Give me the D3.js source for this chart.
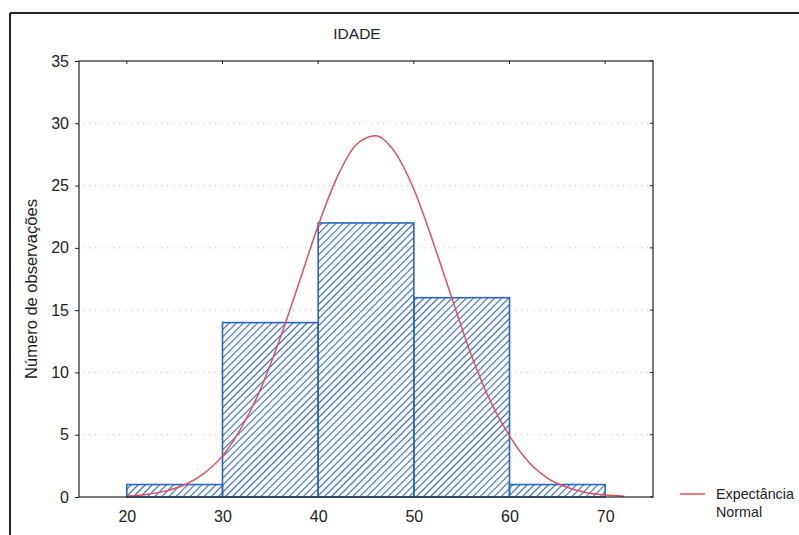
<!DOCTYPE html>
<html>
<head>
<meta charset="utf-8">
<script src="https://cdn.jsdelivr.net/npm/d3@7"></script>
<style>
  body { margin: 0; background: #fff; }
  text { font-family: "Liberation Sans", Arial, sans-serif; fill: #222; }
</style>
</head>
<body>
<svg id="svg" width="799" height="535"></svg>
<script>
// histogram of IDADE (bins of 10 years) + fitted normal curve
let binStarts = [20, 30, 40, 50, 60];
let binEnds = [30, 40, 50, 60, 70];
let counts = [1, 14, 22, 16, 1];

// normal expectancy curve
let curveX = [20, 22, 24, 26, 28, 30, 32, 34, 36, 38, 40, 42, 44, 46, 48, 50, 52, 54, 56, 58, 60, 62, 64, 66, 68, 70, 72];
let curveY = [0.09, 0.21, 0.47, 0.96, 1.86, 3.3, 5.6, 8.7, 12.7, 17.2, 21.8, 25.7, 28.3, 29.0, 27.7, 24.7, 20.5, 15.9, 11.4, 7.7, 4.9, 2.8, 1.5, 0.78, 0.37, 0.16, 0.07];

let xTicks = [20, 30, 40, 50, 60, 70];
let yTicks = [0, 5, 10, 15, 20, 25, 30, 35];

let svg = d3.select("#svg");

let plotLeft = 79, plotRight = 653, plotTop = 61, plotBottom = 497;
let x = d3.scaleLinear().domain([15, 75]).range([plotLeft, plotRight]);
let y = d3.scaleLinear().domain([0, 35]).range([plotBottom, plotTop]);

//Outer frame (top and left edges only visible)
svg.append("line").attr("x1", 10).attr("x2", 799).attr("y1", 13).attr("y2", 13)
    .attr("stroke", "#222").attr("stroke-width", 2);
svg.append("line").attr("x1", 10).attr("x2", 10).attr("y1", 13).attr("y2", 535)
    .attr("stroke", "#222").attr("stroke-width", 2);

//Hatch pattern
let defs = svg.append("defs");
let pat = defs.append("pattern")
    .attr("id", "hatch")
    .attr("patternUnits", "userSpaceOnUse")
    .attr("width", 5).attr("height", 5)
    .attr("patternTransform", "rotate(45)");
pat.append("line")
    .attr("x1", 0).attr("y1", 0).attr("x2", 0).attr("y2", 5)
    .attr("stroke", "#2a66b8").attr("stroke-width", 2.2);

//Grid lines
svg.append("g").selectAll("line")
    .data(yTicks.filter(d => d > 0 && d < 35))
    .join("line")
    .attr("x1", plotLeft + 4).attr("x2", plotRight - 4)
    .attr("y1", d => y(d)).attr("y2", d => y(d))
    .attr("stroke", "#bbb").attr("stroke-width", 1)
    .attr("stroke-dasharray", "1,5");

//Bars
svg.append("g").selectAll("rect")
    .data(counts)
    .join("rect")
    .attr("x", (d, i) => x(binStarts[i]))
    .attr("width", (d, i) => x(binEnds[i]) - x(binStarts[i]))
    .attr("y", d => y(d))
    .attr("height", d => y(0) - y(d))
    .attr("fill", "url(#hatch)")
    .attr("stroke", "#2a66b8")
    .attr("stroke-width", 1.6);

//Normal curve
let line = d3.line().x(d => x(d[0])).y(d => y(d[1])).curve(d3.curveMonotoneX);
svg.append("path")
    .datum(curveX.map((v, i) => [v, curveY[i]]))
    .attr("d", line)
    .attr("fill", "none")
    .attr("stroke", "#e0505c")
    .attr("stroke-width", 1.5);

//Plot box
svg.append("rect")
    .attr("x", plotLeft).attr("y", plotTop)
    .attr("width", plotRight - plotLeft).attr("height", plotBottom - plotTop)
    .attr("fill", "none").attr("stroke", "#222").attr("stroke-width", 1.2);

//Axes
let yAxis = d3.axisLeft(y).tickValues(yTicks).tickSize(4).tickPadding(6);
let gy = svg.append("g").attr("transform", `translate(${plotLeft},0)`).call(yAxis);
let xAxis = d3.axisBottom(x).tickValues(xTicks).tickSize(0).tickPadding(14);
let gx = svg.append("g").attr("transform", `translate(0,${plotBottom})`).call(xAxis);
[gx, gy].forEach(g => {
    g.select(".domain").remove();
    g.selectAll("text").style("font-size", "16px").attr("fill", "#222")
        .style("font-family", "'Liberation Sans', Arial, sans-serif");
    g.selectAll("line").attr("stroke", "#222");
});

//Inner ticks on top and right edges
svg.append("g").selectAll("line")
    .data(xTicks)
    .join("line")
    .attr("x1", d => x(d)).attr("x2", d => x(d))
    .attr("y1", plotTop).attr("y2", plotTop + 3)
    .attr("stroke", "#222");
svg.append("g").selectAll("line")
    .data(yTicks)
    .join("line")
    .attr("x1", plotRight - 3).attr("x2", plotRight)
    .attr("y1", d => y(d)).attr("y2", d => y(d))
    .attr("stroke", "#222");

//Title and axis label
svg.append("text")
    .attr("x", 357).attr("y", 39)
    .attr("text-anchor", "middle")
    .style("font-size", "15.5px")
    .text("IDADE");
svg.append("text")
    .attr("transform", "translate(37,289) rotate(-90)")
    .attr("text-anchor", "middle")
    .style("font-size", "16.5px")
    .text("Número de observações");

//Legend
svg.append("line")
    .attr("x1", 680).attr("x2", 705).attr("y1", 494).attr("y2", 494)
    .attr("stroke", "#e0505c").attr("stroke-width", 1.5);
svg.append("text").attr("x", 716).attr("y", 499).style("font-size", "14.3px").text("Expectância");
svg.append("text").attr("x", 716).attr("y", 517).style("font-size", "14.3px").text("Normal");
</script>
</body>
</html>
